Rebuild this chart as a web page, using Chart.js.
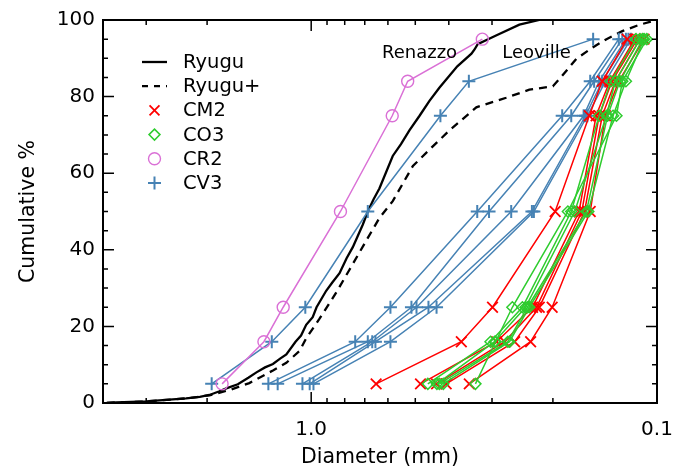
<!DOCTYPE html>
<html>
<head>
<meta charset="utf-8">
<script src="https://cdn.jsdelivr.net/npm/chart.js@4/dist/chart.umd.min.js"></script>
<style>
  body { margin: 0; background: #fff; }
  canvas { display: block; }
</style>
</head>
<body>
<canvas id="chart" width="688" height="472"></canvas>
<script>
// percentiles at which every meteorite sample is plotted
const pctLevels = [5, 16, 25, 50, 75, 84, 95];

// diameters (mm) per sample, one row per meteorite
const cm2Diam = [
  [0.649, 0.368, 0.299, 0.197, 0.157, 0.144, 0.122],
  [0.483, 0.291, 0.229, 0.168, 0.150, 0.137, 0.116],
  [0.434, 0.276, 0.223, 0.165, 0.147, 0.135, 0.114],
  [0.407, 0.258, 0.219, 0.162, 0.144, 0.132, 0.112],
  [0.349, 0.232, 0.201, 0.156, 0.141, 0.129, 0.109]
];
const co3Diam = [
  [0.460, 0.303, 0.245, 0.177, 0.147, 0.136, 0.115],
  [0.433, 0.295, 0.240, 0.173, 0.140, 0.132, 0.112],
  [0.426, 0.270, 0.237, 0.160, 0.139, 0.128, 0.110],
  [0.415, 0.267, 0.234, 0.158, 0.134, 0.123, 0.109],
  [0.335, 0.293, 0.262, 0.181, 0.131, 0.126, 0.107]
];
const cr2Diam = [
  [1.81, 1.37, 1.205, 0.823, 0.583, 0.526, 0.320]
];
const cv3Diam = [
  [1.94, 1.30, 1.04, 0.686, 0.423, 0.350, 0.153],
  [1.33, 0.746, 0.590, 0.331, 0.188, 0.156, 0.129],
  [1.25, 0.686, 0.513, 0.306, 0.177, 0.152, 0.126],
  [1.06, 0.666, 0.496, 0.264, 0.163, 0.147, 0.123],
  [1.01, 0.652, 0.458, 0.230, 0.161, 0.144, 0.121],
  [0.985, 0.590, 0.434, 0.227, 0.159, 0.141, 0.119]
];

// Ryugu cumulative curves
const ryuguDiam = [3.90, 3.66, 3.00, 2.30, 2.10, 1.97, 1.85, 1.76, 1.63, 1.52, 1.44, 1.36, 1.29, 1.23, 1.18,
  1.11, 1.07, 1.034, 0.99, 0.965, 0.905, 0.87, 0.828, 0.79, 0.758, 0.709, 0.686, 0.66, 0.635, 0.581,
  0.55, 0.520, 0.486, 0.455, 0.426, 0.378, 0.344, 0.337, 0.330, 0.291, 0.250, 0.219];
const ryuguPct = [0, 0.15, 0.4, 1.2, 1.6, 2.1, 3.0, 3.8, 4.9, 6.6, 8.0, 9.3, 10.2, 11.6, 12.7,
  16.0, 17.6, 20.4, 22.4, 25.0, 29.3, 31.4, 33.9, 37.8, 40.7, 46.6, 50.0, 53.2, 56.0, 64.5,
  67.6, 71.2, 75.0, 78.9, 82.3, 87.9, 91.2, 92.3, 93.7, 96.0, 98.8, 100];
const ryuguPlusDiam = [3.90, 3.66, 3.00, 2.30, 1.97, 1.72, 1.51, 1.29, 1.18, 1.08, 1.034, 0.946, 0.847, 0.775,
  0.693, 0.635, 0.581, 0.508, 0.445, 0.398, 0.333, 0.273, 0.234, 0.200, 0.189, 0.171, 0.153, 0.140,
  0.126, 0.112, 0.100];
const ryuguPlusPct = [0, 0.15, 0.4, 1.2, 2.0, 3.4, 5.2, 8.5, 10.5, 13.6, 16.9, 22.0, 28.8, 34.8,
  42.4, 48.3, 52.7, 61.9, 67.0, 71.2, 77.2, 79.7, 81.8, 82.7, 85.2, 89.9, 92.9, 95.0,
  97.1, 98.8, 100];

// axis ticks
const xTickValues = [1, 0.1];
const xTickLabels = ['1.0', '0.1'];
const xMinorTicks = [4, 3, 2, 0.9, 0.8, 0.7, 0.6, 0.5, 0.4, 0.3, 0.2];
const yTickStep = 20;
const yMinorStep = 5;

// text labels on the plot
const noteNames = ['Renazzo', 'Leoville'];
const noteDiam = [0.486, 0.223];
const notePct = [91.4, 91.4];

const legendNames = ['Ryugu', 'Ryugu+', 'CM2', 'CO3', 'CR2', 'CV3'];

const colors = {
  cm2: '#ff0000',
  co3: '#2ecc2e',
  cr2: '#da70d6',
  cv3: '#4682b4'
};
const FONT = 'DejaVu Sans';

const toPoints = (diams, pcts) => diams.map((d, i) => ({ x: d, y: pcts[i] }));

const datasets = [];

const addGroup = (rows, color, style, radius, width) => {
  rows.forEach(row => {
    datasets.push({
      data: toPoints(row, pctLevels),
      borderColor: color,
      borderWidth: 1.5,
      pointStyle: style,
      pointRadius: radius,
      pointBorderColor: color,
      pointBackgroundColor: 'rgba(0,0,0,0)',
      pointBorderWidth: width,
      tension: 0
    });
  });
};

datasets.push({
  data: toPoints(ryuguPlusDiam, ryuguPlusPct),
  borderColor: '#000',
  borderWidth: 2.3,
  borderDash: [8, 6],
  pointRadius: 0,
  tension: 0
});
datasets.push({
  data: toPoints(ryuguDiam, ryuguPct),
  borderColor: '#000',
  borderWidth: 2.3,
  pointRadius: 0,
  tension: 0
});
addGroup(cv3Diam, colors.cv3, 'cross', 6.5, 2);
addGroup(cr2Diam, colors.cr2, 'circle', 6, 1.4);
addGroup(cm2Diam, colors.cm2, 'crossRot', 7.5, 1.8);
addGroup(co3Diam, colors.co3, 'rectRot', 5.5, 1.5);

// later datasets drawn on top
datasets.forEach((ds, i) => { ds.order = -i; });

const legendItems = [
  { line: true, dash: [] },
  { line: true, dash: [6, 6] },
  { style: 'crossRot', color: colors.cm2, radius: 7, width: 1.8 },
  { style: 'rectRot', color: colors.co3, radius: 5.5, width: 1.5 },
  { style: 'circle', color: colors.cr2, radius: 6, width: 1.4 },
  { style: 'cross', color: colors.cv3, radius: 6.5, width: 2 }
];

const framePlugin = {
  id: 'frame',
  afterDatasetsDraw(chart) {
    const { ctx, chartArea: a, scales: { x, y } } = chart;
    ctx.save();
    ctx.strokeStyle = '#000';
    ctx.lineWidth = 1.5;

    const vTick = (px, len) => {
      ctx.beginPath();
      ctx.moveTo(px, a.bottom);
      ctx.lineTo(px, a.bottom - len);
      ctx.moveTo(px, a.top);
      ctx.lineTo(px, a.top + len);
      ctx.stroke();
    };
    const hTick = (py, len) => {
      ctx.beginPath();
      ctx.moveTo(a.left, py);
      ctx.lineTo(a.left + len, py);
      ctx.moveTo(a.right, py);
      ctx.lineTo(a.right - len, py);
      ctx.stroke();
    };

    xTickValues.forEach(v => vTick(x.getPixelForValue(v), 11));
    xMinorTicks.forEach(v => vTick(x.getPixelForValue(v), 5));
    for (let v = 0; v <= 100; v += yMinorStep) {
      hTick(y.getPixelForValue(v), v % yTickStep === 0 ? 11 : 5);
    }

    ctx.lineWidth = 2;
    ctx.strokeRect(a.left, a.top, a.right - a.left, a.bottom - a.top);

    // notes
    ctx.fillStyle = '#000';
    ctx.font = `18px "${FONT}"`;
    ctx.textAlign = 'center';
    ctx.textBaseline = 'middle';
    noteNames.forEach((n, i) => {
      ctx.fillText(n, x.getPixelForValue(noteDiam[i]), y.getPixelForValue(notePct[i]));
    });

    // legend
    const lx = a.left + 39;
    const ly = a.top + 42;
    const step = 24.2;
    ctx.font = `19.5px "${FONT}"`;
    ctx.textAlign = 'left';
    legendItems.forEach((it, i) => {
      const cy = ly + i * step;
      if (it.line) {
        ctx.strokeStyle = '#000';
        ctx.lineWidth = 2.3;
        ctx.setLineDash(it.dash);
        ctx.beginPath();
        ctx.moveTo(lx, cy);
        ctx.lineTo(lx + 25, cy);
        ctx.stroke();
        ctx.setLineDash([]);
      } else {
        ctx.strokeStyle = it.color;
        ctx.fillStyle = 'rgba(0,0,0,0)';
        ctx.lineWidth = it.width;
        Chart.helpers.drawPoint(ctx, { pointStyle: it.style, radius: it.radius, rotation: 0, borderWidth: it.width }, lx + 12.5, cy);
      }
      ctx.fillStyle = '#000';
      ctx.fillText(legendNames[i], lx + 41, cy + 1);
    });
    ctx.restore();
  }
};

new Chart(document.getElementById('chart'), {
  type: 'line',
  data: { datasets },
  plugins: [framePlugin],
  options: {
    responsive: false,
    animation: false,
    layout: { padding: { left: 0, right: 31, top: 10, bottom: 0 } },
    plugins: {
      legend: { display: false },
      tooltip: { enabled: false }
    },
    scales: {
      x: {
        type: 'logarithmic',
        reverse: true,
        min: 0.1,
        max: 4,
        grid: { display: false, drawTicks: false },
        border: { display: false },
        afterBuildTicks: scale => {
          scale.ticks = xTickValues.map(v => ({ value: v }));
        },
        afterFit: scale => { scale.height = 69; },
        ticks: {
          autoSkip: false,
          maxRotation: 0,
          padding: 15,
          color: '#000',
          font: { family: FONT, size: 20 },
          callback: v => xTickLabels[xTickValues.indexOf(v)]
        },
        title: {
          display: true,
          text: 'Diameter (mm)',
          color: '#000',
          font: { family: FONT, size: 20.5 },
          padding: { bottom: 2 }
        }
      },
      y: {
        type: 'linear',
        min: 0,
        max: 100,
        grid: { display: false, drawTicks: false },
        border: { display: false },
        afterFit: scale => { scale.width = 103; },
        ticks: {
          stepSize: yTickStep,
          padding: 8,
          color: '#000',
          font: { family: FONT, size: 20 }
        },
        title: {
          display: true,
          text: 'Cumulative %',
          color: '#000',
          font: { family: FONT, size: 20.5 },
          padding: { top: 16 }
        }
      }
    }
  }
});
</script>
</body>
</html>
